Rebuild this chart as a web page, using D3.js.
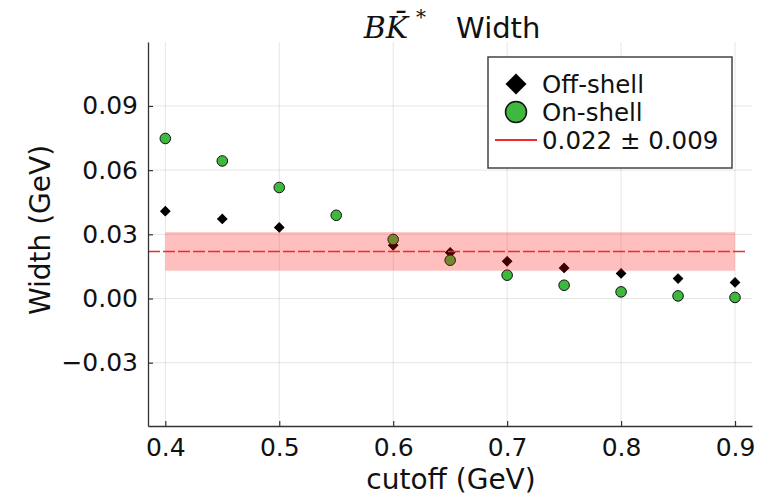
<!DOCTYPE html>
<html>
<head>
<meta charset="utf-8">
<script src="https://cdn.jsdelivr.net/npm/d3@7"></script>
<style>
  body { margin: 0; background: #fff; }
  svg { display: block; font-family: "DejaVu Sans", sans-serif; }
</style>
</head>
<body>
<svg width="781" height="499"></svg>
<script>
// data
const cutoff   = [0.40, 0.45, 0.50, 0.55, 0.60, 0.65, 0.70, 0.75, 0.80, 0.85, 0.90];
const offShell = [0.0408, 0.0372, 0.0332, null, 0.0249, 0.0215, 0.0174, 0.0143, 0.0117, 0.0093, 0.0075];
const onShell  = [0.0748, 0.0643, 0.0519, 0.0389, 0.0276, 0.0179, 0.0109, 0.0062, 0.0031, 0.0012, 0.0005];
const fitMean  = 0.022,
      fitErr   = 0.009;
const xTicks   = [0.4, 0.5, 0.6, 0.7, 0.8, 0.9];
const yTicks   = [-0.03, 0.00, 0.03, 0.06, 0.09];
const legendLabels = ["Off-shell", "On-shell", "0.022 \u00b1 0.009"];

var svg = d3.select("svg");

const pLeft = 148, pRight = 752, pTop = 42, pBottom = 426;

var x = d3.scaleLinear()
          .domain([0.3848, 0.9149])
          .range([pLeft, pRight]);

var y = d3.scaleLinear()
          .domain([-0.0596, 0.1199])
          .range([pBottom, pTop]);

var green = "#3fb83f",
    red   = "#ee2a2a";

// grid
svg.append("g")
   .selectAll("line")
   .data(xTicks)
   .enter().append("line")
   .attr("x1", d => x(d)).attr("x2", d => x(d))
   .attr("y1", pTop).attr("y2", pBottom)
   .attr("stroke", "#000").attr("stroke-opacity", 0.1);

svg.append("g")
   .selectAll("line")
   .data(yTicks)
   .enter().append("line")
   .attr("x1", pLeft).attr("x2", pRight)
   .attr("y1", d => y(d)).attr("y2", d => y(d))
   .attr("stroke", "#000").attr("stroke-opacity", 0.1);

// points
var diamond = d3.symbol().type(d3.symbolSquare).size(44);

var offData = cutoff.map((c, i) => ({x: c, y: offShell[i]})).filter(d => d.y != null);
var onData  = cutoff.map((c, i) => ({x: c, y: onShell[i]}));

svg.append("g")
   .selectAll("path")
   .data(offData)
   .enter().append("path")
   .attr("d", diamond)
   .attr("transform", d => `translate(${x(d.x)},${y(d.y)}) rotate(45)`)
   .attr("fill", "#000")
   .attr("stroke", "#000")
   .attr("stroke-width", 1);

svg.append("g")
   .selectAll("circle")
   .data(onData)
   .enter().append("circle")
   .attr("cx", d => x(d.x))
   .attr("cy", d => y(d.y))
   .attr("r", 5.3)
   .attr("fill", green)
   .attr("stroke", "#111")
   .attr("stroke-width", 1);

// error band + mean line
svg.append("rect")
   .attr("x", x(cutoff[0]))
   .attr("width", x(cutoff[cutoff.length - 1]) - x(cutoff[0]))
   .attr("y", y(fitMean + fitErr))
   .attr("height", y(fitMean - fitErr) - y(fitMean + fitErr))
   .attr("fill", "red")
   .attr("fill-opacity", 0.25);

svg.append("line")
   .attr("x1", pLeft).attr("x2", pRight - 5)
   .attr("y1", y(fitMean)).attr("y2", y(fitMean))
   .attr("stroke", red)
   .attr("stroke-width", 1.6)
   .attr("stroke-dasharray", "12,3");

// axes
var xAxis = svg.append("g")
               .attr("transform", `translate(0,${pBottom})`)
               .call(d3.axisBottom(x).tickValues(xTicks).tickFormat(d3.format(".1f")).tickSizeInner(-5).tickSizeOuter(0).tickPadding(12));

var yAxis = svg.append("g")
               .attr("transform", `translate(${pLeft},0)`)
               .call(d3.axisLeft(y).tickValues(yTicks).tickFormat(d3.format(".2f")).tickSizeInner(-5).tickSizeOuter(0).tickPadding(10));

[xAxis, yAxis].forEach(a => {
  a.select(".domain").attr("stroke", "#333").attr("stroke-width", 1.3);
  a.selectAll(".tick line").attr("stroke", "#333").attr("stroke-width", 1.2);
  a.selectAll(".tick text")
   .attr("fill", "#111")
   .style("font-size", "25px")
   .style("font-family", "DejaVu Sans");
});

// labels
svg.append("text")
   .attr("x", 451).attr("y", 489)
   .attr("text-anchor", "middle")
   .style("font-size", "28px")
   .attr("fill", "#111")
   .text("cutoff (GeV)");

svg.append("text")
   .attr("transform", "translate(50,230) rotate(-90)")
   .attr("text-anchor", "middle")
   .style("font-size", "28px")
   .attr("fill", "#111")
   .text("Width (GeV)");

var title = svg.append("text")
               .attr("x", 452).attr("y", 38)
               .attr("text-anchor", "middle")
               .attr("fill", "#111");
title.append("tspan")
     .style("font-family", "DejaVu Serif")
     .style("font-style", "italic")
     .style("font-size", "30px")
     .text("BK\u0304");
title.append("tspan")
     .style("font-family", "DejaVu Serif")
     .style("font-size", "20px")
     .attr("dx", 8).attr("dy", -14)
     .text("*");
title.append("tspan")
     .style("font-size", "29px")
     .attr("dx", 30).attr("dy", 14)
     .text("Width");

// legend
var legend = svg.append("g");

legend.append("rect")
      .attr("x", 488).attr("y", 57)
      .attr("width", 244).attr("height", 111)
      .attr("fill", "#fff")
      .attr("stroke", "#444")
      .attr("stroke-width", 1.5);

var rowY = [84, 112, 140];

legend.append("path")
      .attr("d", d3.symbol().type(d3.symbolSquare).size(220))
      .attr("transform", `translate(516,${rowY[0]}) rotate(45)`)
      .attr("fill", "#000");

legend.append("circle")
      .attr("cx", 516).attr("cy", rowY[1])
      .attr("r", 10.5)
      .attr("fill", green)
      .attr("stroke", "#111")
      .attr("stroke-width", 1.5);

legend.append("line")
      .attr("x1", 495).attr("x2", 537)
      .attr("y1", rowY[2]).attr("y2", rowY[2])
      .attr("stroke", red)
      .attr("stroke-width", 2);

legend.selectAll("text.lab")
      .data(legendLabels)
      .enter().append("text")
      .attr("class", "lab")
      .attr("x", 542)
      .attr("y", (d, i) => rowY[i] + 9)
      .style("font-size", "24.5px")
      .attr("fill", "#111")
      .text(d => d);
</script>
</body>
</html>
